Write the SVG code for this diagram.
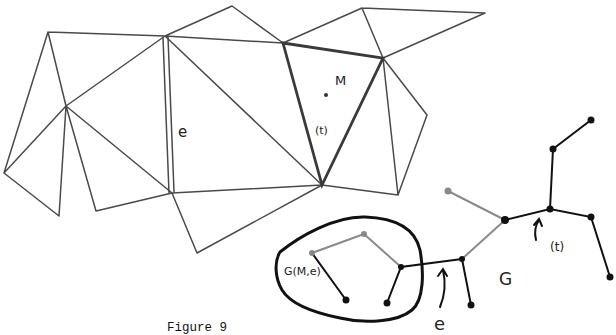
<svg xmlns="http://www.w3.org/2000/svg" width="616" height="335" viewBox="0 0 616 335">
<style>
.m{stroke:#4a4a4a;stroke-width:1.5;fill:none;stroke-linecap:round;stroke-linejoin:round}
.thick{stroke:#3a3a3a;stroke-width:2.8;fill:none;stroke-linecap:round}
.t{stroke:#111;stroke-width:2;fill:none;stroke-linecap:round}
.tg{stroke:#8a8a8a;stroke-width:2;fill:none;stroke-linecap:round}
.n{fill:#111}
.ng{fill:#888}
.lbl{font-family:"Comic Sans MS","DejaVu Sans",sans-serif;fill:#222}
</style>
<rect width="616" height="335" fill="#fff"/>
<g id="mesh">
<path class="m" d="M48,32 L165,36 L232,6 L283,43 L165,36 M48,32 L66,106 L165,36 M48,32 L4,173 L66,106 M4,173 L59,216 L66,106 L96,211 L172,193 L66,106 M172,193 L322,185 L165,36 M172,193 L197,253 L322,185 M283,43 L362,8 L485,13 L383,58 L362,8 M383,58 L427,115 L398,195 L383,58 M322,185 L398,195"/>
<path class="m" d="M163,38 L169,193 M168,37 L174,192"/>
<path class="thick" d="M283,43 L383,58 L322,185 Z"/>
</g>
<g id="labels-mesh">
<text class="lbl" x="178" y="137" font-size="15">e</text>
<circle cx="326" cy="95" r="2" fill="#333"/>
<text class="lbl" x="335" y="85" font-size="13">M</text>
<text class="lbl" x="315" y="134" font-size="11">(t)</text>
</g>
<g id="connectors">
<path class="tg" d="M448,191 L505,220 M505,220 L462,259 M364,234 L401,267 M364,234 L312,253"/>
<path class="t" d="M505,220 L550,209 L591,217 L610,277 M550,209 L553,149 L591,120 M462,259 L471,305 M462,259 L401,267 L387,303 M312,253 L346,300"/>
<path class="t" d="M440,307 C445,295 446,283 443,270 M438,276 L443,269 L447,276"/>
<path class="t" d="M536,240 C534,232 535,226 539,220 M534,225 L539,219 L542,226"/>
</g>
<g id="tree-nodes">
<circle class="ng" cx="448" cy="191" r="3.5"/>
<circle class="n" cx="505" cy="220" r="4"/>
<circle class="n" cx="550" cy="209" r="3.5"/>
<circle class="n" cx="591" cy="217" r="3.5"/>
<circle class="n" cx="610" cy="277" r="3.5"/>
<circle class="n" cx="553" cy="149" r="3.5"/>
<circle class="n" cx="591" cy="120" r="3.5"/>
<circle class="n" cx="462" cy="259" r="3"/>
<circle class="n" cx="471" cy="305" r="3.5"/>
<circle class="n" cx="401" cy="267" r="3"/>
<circle class="n" cx="387" cy="303" r="3.5"/>
<circle class="ng" cx="364" cy="234" r="3"/>
<circle class="ng" cx="312" cy="253" r="3"/>
<circle class="n" cx="346" cy="300" r="3.5"/>
</g>
<g id="region">
<path d="M280,252 C300,236 335,216 365,217 C395,218 415,228 420,250 C424,272 424,300 412,310 C398,322 365,324 340,318 C310,312 290,303 282,290 C275,278 274,262 280,252 Z" fill="none" stroke="#111" stroke-width="3"/>
<text class="lbl" x="284" y="275" font-size="11">G(M,e)</text>
</g>
<g id="text">
<text class="lbl" x="499" y="285" font-size="17">G</text>
<text class="lbl" x="434" y="330" font-size="18">e</text>
<text class="lbl" x="550" y="251" font-size="12">(t)</text>
<text x="167" y="331" font-family="Liberation Mono, monospace" font-size="12.5" fill="#111">Figure 9</text>
</g>
</svg>
